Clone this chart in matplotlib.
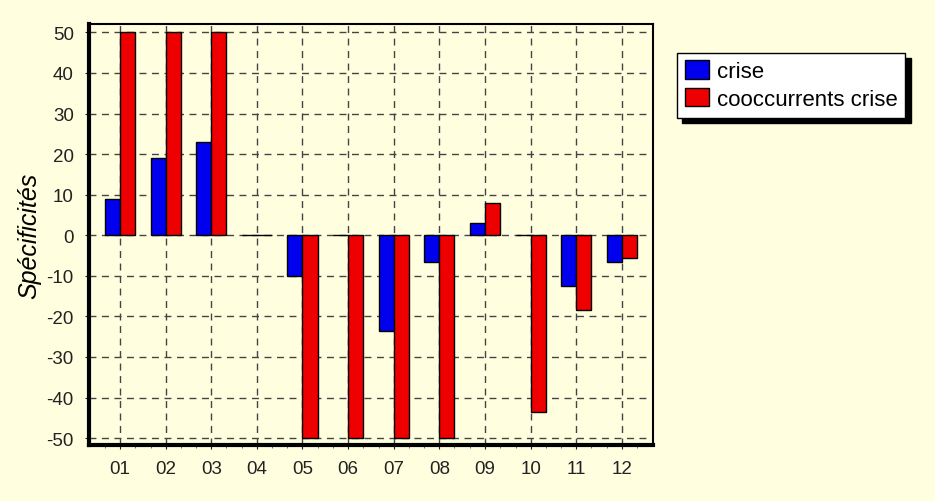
import numpy as np
import matplotlib.pyplot as plt

# categories and values
categories = ['01', '02', '03', '04', '05', '06', '07', '08', '09', '10', '11', '12']
crise = [9, 19, 23, 0, -10, 0, -23.5, -6.5, 3, 0, -12.5, -6.5]
cooccurrents = [50, 50, 50, 0, -50, -50, -50, -50, 8, -43.5, -18.5, -5.5]
yticks = [-50, -40, -30, -20, -10, 0, 10, 20, 30, 40, 50]

plt.rcParams['font.family'] = ['Liberation Sans', 'DejaVu Sans']
plt.rcParams['axes.unicode_minus'] = False

bg = '#FFFFE0'
fig = plt.figure(figsize=(9.35, 5.02), dpi=100, facecolor=bg)
ax = fig.add_axes([0.0952, 0.1116, 0.603, 0.838], facecolor=bg)

x = np.arange(len(categories))
w = 0.33
ax.bar(x - w / 2, crise, w, color='#0000EE', edgecolor='black', linewidth=1, label='crise', zorder=3)
ax.bar(x + w / 2, cooccurrents, w, color='#EE0000', edgecolor='black', linewidth=1,
       label='cooccurrents crise', zorder=3)

ax.set_xlim(-0.68, len(categories) - 0.32)
ax.set_ylim(-51.7, 52)
ax.set_xticks(x)
ax.set_xticklabels(categories)
ax.set_xticks(np.concatenate([x - w, x + w]), minor=True)
ax.set_yticks(yticks)
ax.tick_params(axis='both', labelsize=13.5, colors='#222222', length=3)
ax.tick_params(axis='y', pad=8)
ax.tick_params(axis='x', pad=8)
ax.tick_params(axis='x', which='minor', length=2, color='#555555')
ax.grid(True, which='major', linestyle=(0, (5, 4)), color='#444444', linewidth=1, zorder=0)

for side in ['left', 'bottom']:
    ax.spines[side].set_linewidth(3)
for side in ['top', 'right']:
    ax.spines[side].set_linewidth(1.5)

ax.set_ylabel('Spécificités', fontsize=18, style='italic', labelpad=4)

fig.legend(loc='upper left', bbox_to_anchor=(0.724, 0.893), fontsize=16,
           frameon=True, fancybox=False, edgecolor='black', facecolor='white',
           framealpha=1, borderaxespad=0, borderpad=0.35, handlelength=1.1,
           handleheight=0.9, handletextpad=0.35, labelspacing=0.25,
           shadow={'color': 'black', 'alpha': 1, 'ox': 4, 'oy': -4})

plt.savefig('out.png', dpi=100, facecolor=bg)
